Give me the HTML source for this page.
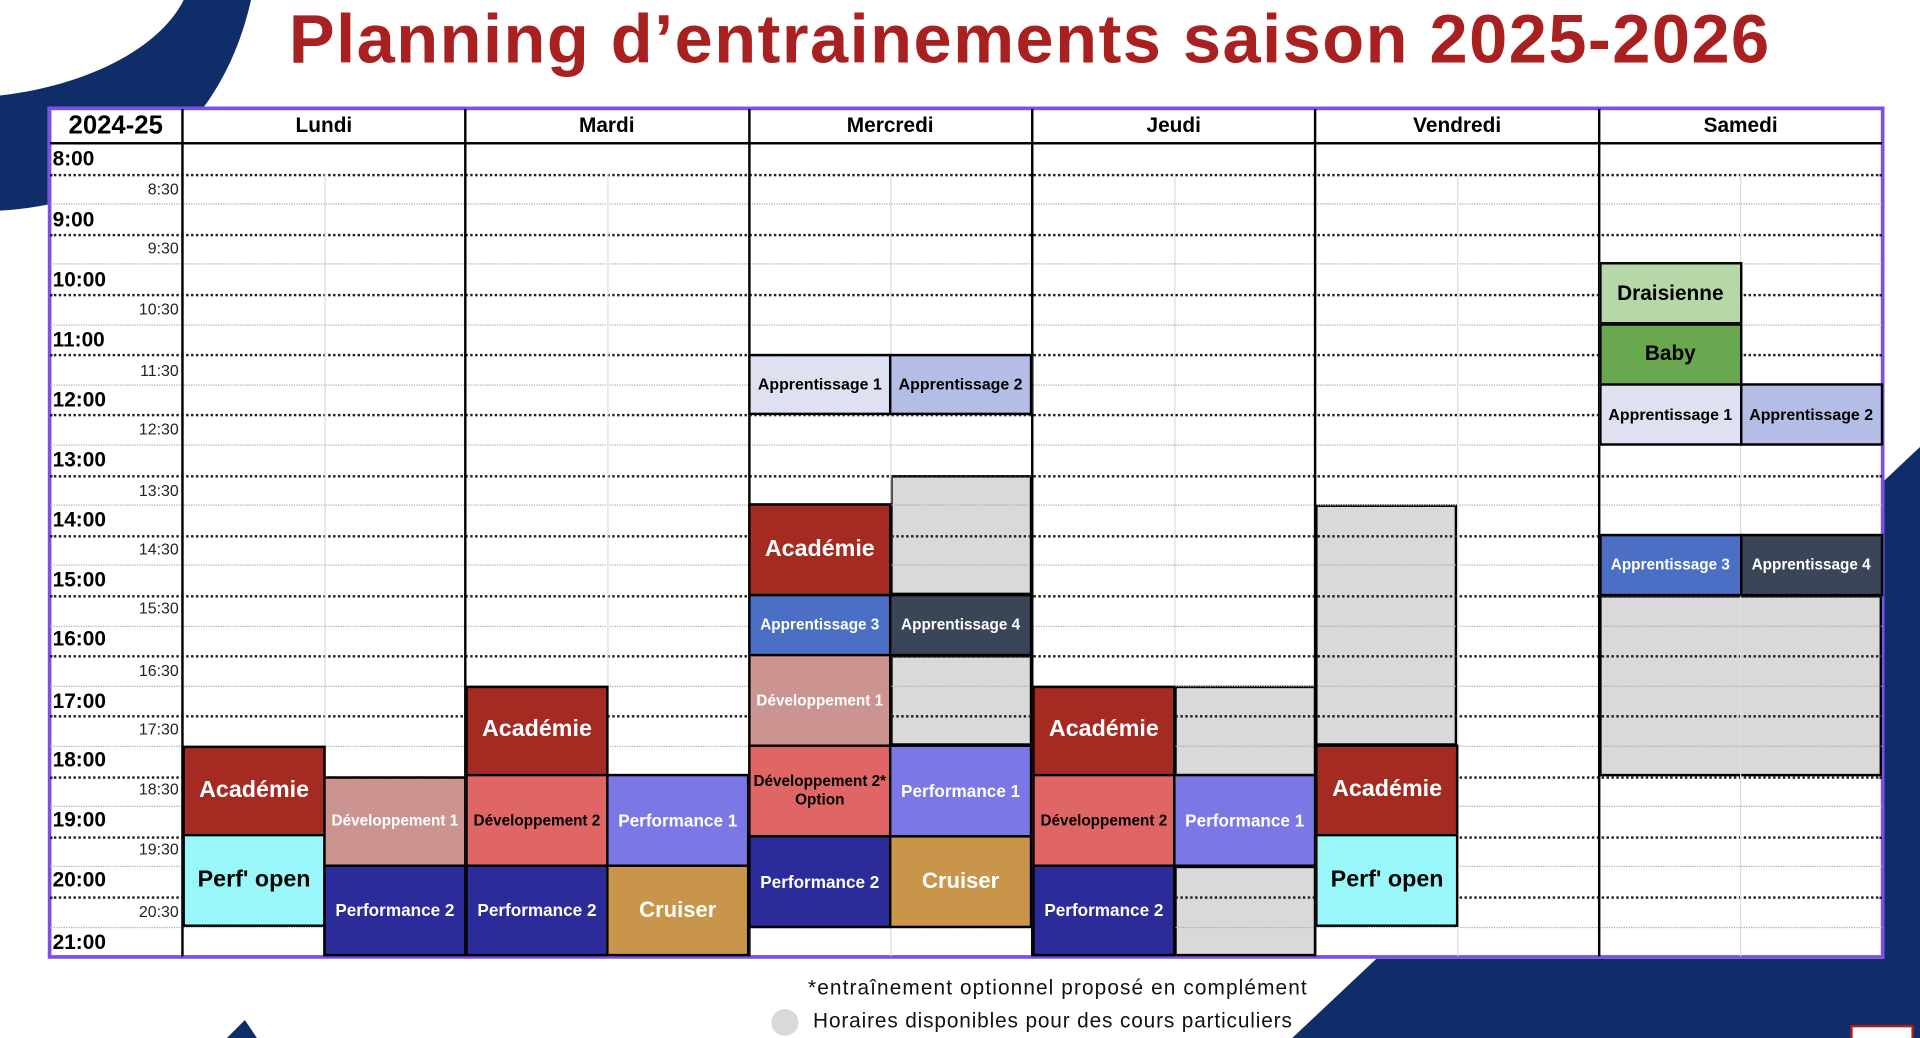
<!DOCTYPE html>
<html><head><meta charset="utf-8"><style>
html,body{margin:0;padding:0;width:1920px;height:1038px;overflow:hidden;background:#fff}
#w{position:absolute;left:0;top:0;width:1568px;height:848px;transform:scale(1.22449);transform-origin:0 0;font-family:"Liberation Sans",sans-serif}
.a{position:absolute}
.h{position:absolute;left:41px;width:1496px;height:0;border-top:2px dotted #222}
.g{position:absolute;left:41px;width:1496px;height:0;border-top:1.5px dotted #aaa}
.v{position:absolute;top:89px;height:692px;width:0;border-left:2px solid #000}
.s{position:absolute;top:142px;height:639px;width:0;border-left:1px solid #ddd}
.b{position:absolute;box-sizing:border-box;border:2px solid #000;display:flex;align-items:center;justify-content:center;text-align:center;font-weight:bold;color:#fff;line-height:1.2}
.gr{position:absolute;box-sizing:border-box;border:2px solid #000;background:#d9d9d9}
.hd{position:absolute;top:89px;height:28px;display:flex;align-items:center;justify-content:center;font-weight:bold;font-size:17px}
.tl{position:absolute;left:43px;font-weight:bold;font-size:17px}
.tr{position:absolute;left:60px;width:86px;text-align:right;font-size:13px;color:#222}
</style></head><body><div id="w">
<svg class="a" style="left:0;top:0" width="1568" height="848">
<path d="M0,78 C70,70 130,40 150,0 L205,0 C185,90 120,165 0,172 Z" fill="#0f2d69"/>
<path d="M1568,365 L1568,848 L1055,848 Z" fill="#0f2d69"/>
<path d="M185,848 L200,833 L210,848 Z" fill="#0f2d69"/>
<rect x="1512" y="838" width="50" height="14" fill="#fff" stroke="#a8201f" stroke-width="2"/>
</svg>
<div class="a" style="left:0;top:0;width:1682px;text-align:center;font-weight:bold;font-size:56px;color:#a8201f;line-height:64px;letter-spacing:1.2px">Planning d’entrainements saison 2025-2026</div>
<div class="a" style="left:39px;top:87px;width:1500px;height:696px;box-sizing:border-box;border:3px solid #7b4fe8;background:#fff"></div>

<div class="gr" style="left:727px;top:387.6px;width:116px;height:98.4px"></div>
<div class="gr" style="left:727px;top:535.2px;width:116px;height:73.8px"></div>
<div class="gr" style="left:958.6px;top:559.8px;width:116px;height:73.8px"></div>
<div class="gr" style="left:958.6px;top:707.4px;width:116px;height:73.6px"></div>
<div class="gr" style="left:1074.3px;top:412.2px;width:116px;height:196.8px"></div>
<div class="gr" style="left:1305.6px;top:486px;width:231.4px;height:147.6px"></div>

<div class="h" style="top:141.6px"></div><div class="g" style="top:166.2px"></div>
<div class="h" style="top:190.8px"></div><div class="g" style="top:215.4px"></div>
<div class="h" style="top:240px"></div><div class="g" style="top:264.6px"></div>
<div class="h" style="top:289.2px"></div><div class="g" style="top:313.8px"></div>
<div class="h" style="top:338.4px"></div><div class="g" style="top:363px"></div>
<div class="h" style="top:387.6px"></div><div class="g" style="top:412.2px"></div>
<div class="h" style="top:436.8px"></div><div class="g" style="top:461.4px"></div>
<div class="h" style="top:486px"></div><div class="g" style="top:510.6px"></div>
<div class="h" style="top:535.2px"></div><div class="g" style="top:559.8px"></div>
<div class="h" style="top:584.4px"></div><div class="g" style="top:609px"></div>
<div class="h" style="top:633.6px"></div><div class="g" style="top:658.2px"></div>
<div class="h" style="top:682.8px"></div><div class="g" style="top:707.4px"></div>
<div class="h" style="top:732px"></div><div class="g" style="top:756.6px"></div>
<div class="s" style="left:265px"></div><div class="s" style="left:496px"></div><div class="s" style="left:727px"></div>
<div class="s" style="left:958.6px"></div><div class="s" style="left:1190px"></div><div class="s" style="left:1421.3px"></div>
<div class="a" style="left:41px;top:116px;width:1496px;border-top:2.5px solid #000"></div>
<div class="v" style="left:148px"></div><div class="v" style="left:379.3px"></div><div class="v" style="left:610.6px"></div>
<div class="v" style="left:842px"></div><div class="v" style="left:1073.3px"></div><div class="v" style="left:1304.6px"></div>

<div class="hd" style="left:41px;width:107px;font-size:21px">2024-25</div>
<div class="hd" style="left:149px;width:231px">Lundi</div>
<div class="hd" style="left:380px;width:231px">Mardi</div>
<div class="hd" style="left:611px;width:232px">Mercredi</div>
<div class="hd" style="left:843px;width:231px">Jeudi</div>
<div class="hd" style="left:1074px;width:232px">Vendredi</div>
<div class="hd" style="left:1306px;width:231px">Samedi</div>

<div class="tl" style="top:120px">8:00</div><div class="tr" style="top:147px">8:30</div>
<div class="tl" style="top:170px">9:00</div><div class="tr" style="top:195px">9:30</div>
<div class="tl" style="top:219px">10:00</div><div class="tr" style="top:245px">10:30</div>
<div class="tl" style="top:268px">11:00</div><div class="tr" style="top:295px">11:30</div>
<div class="tl" style="top:317px">12:00</div><div class="tr" style="top:343px">12:30</div>
<div class="tl" style="top:366px">13:00</div><div class="tr" style="top:393px">13:30</div>
<div class="tl" style="top:415px">14:00</div><div class="tr" style="top:441px">14:30</div>
<div class="tl" style="top:464px">15:00</div><div class="tr" style="top:489px">15:30</div>
<div class="tl" style="top:512px">16:00</div><div class="tr" style="top:540px">16:30</div>
<div class="tl" style="top:563px">17:00</div><div class="tr" style="top:588px">17:30</div>
<div class="tl" style="top:611px">18:00</div><div class="tr" style="top:637px">18:30</div>
<div class="tl" style="top:660px">19:00</div><div class="tr" style="top:686px">19:30</div>
<div class="tl" style="top:709px">20:00</div><div class="tr" style="top:737px">20:30</div>
<div class="tl" style="top:760px">21:00</div>

<div class="b" style="left:149px;top:609px;width:117px;height:74px;background:#a52b22;font-size:19px">Académie</div>
<div class="b" style="left:149px;top:681px;width:117px;height:76px;background:#99f7f9;color:#000;font-size:19px">Perf' open</div>
<div class="b" style="left:264px;top:633.6px;width:117px;height:74px;background:#cc9490;font-size:12.5px">Développement 1</div>
<div class="b" style="left:264px;top:706px;width:117px;height:75px;background:#2b2b9a;font-size:14px">Performance 2</div>
<div class="b" style="left:380px;top:559.8px;width:117px;height:74px;background:#a52b22;font-size:19px">Académie</div>
<div class="b" style="left:380px;top:632px;width:117px;height:76px;background:#e06666;color:#000;font-size:12.5px">Développement 2</div>
<div class="b" style="left:380px;top:706px;width:117px;height:75px;background:#2b2b9a;font-size:14px">Performance 2</div>
<div class="b" style="left:495px;top:632px;width:117px;height:76px;background:#7b78e6;font-size:14px">Performance 1</div>
<div class="b" style="left:495px;top:706px;width:117px;height:75px;background:#c9954a;font-size:18px">Cruiser</div>
<div class="b" style="left:611px;top:289.2px;width:117px;height:50px;background:#dde1f2;color:#000;font-size:13px">Apprentissage 1</div>
<div class="b" style="left:726px;top:289.2px;width:117px;height:50px;background:#b4bde6;color:#000;font-size:13px">Apprentissage 2</div>
<div class="b" style="left:611px;top:411px;width:117px;height:76px;background:#a52b22;font-size:19px">Académie</div>
<div class="b" style="left:611px;top:485px;width:117px;height:51px;background:#4a6fc4;font-size:12.5px">Apprentissage 3</div>
<div class="b" style="left:726px;top:485px;width:117px;height:51px;background:#3a4558;font-size:12.5px">Apprentissage 4</div>
<div class="b" style="left:611px;top:534px;width:117px;height:76px;background:#cc9490;font-size:12.5px">Développement 1</div>
<div class="b" style="left:611px;top:608px;width:117px;height:76px;background:#e06666;color:#000;font-size:12.5px">Développement 2*<br>Option</div>
<div class="b" style="left:726px;top:608px;width:117px;height:76px;background:#7b78e6;font-size:14px">Performance 1</div>
<div class="b" style="left:611px;top:682px;width:117px;height:76px;background:#2b2b9a;font-size:14px">Performance 2</div>
<div class="b" style="left:726px;top:682px;width:117px;height:76px;background:#c9954a;font-size:18px">Cruiser</div>
<div class="b" style="left:843px;top:559.8px;width:117px;height:74px;background:#a52b22;font-size:19px">Académie</div>
<div class="b" style="left:843px;top:632px;width:117px;height:76px;background:#e06666;color:#000;font-size:12.5px">Développement 2</div>
<div class="b" style="left:843px;top:706px;width:117px;height:75px;background:#2b2b9a;font-size:14px">Performance 2</div>
<div class="b" style="left:958px;top:632px;width:117px;height:76px;background:#7b78e6;font-size:14px">Performance 1</div>
<div class="b" style="left:1074.3px;top:608px;width:117px;height:75px;background:#a52b22;font-size:19px">Académie</div>
<div class="b" style="left:1074.3px;top:681px;width:117px;height:76px;background:#99f7f9;color:#000;font-size:19px">Perf' open</div>
<div class="b" style="left:1305.6px;top:214.4px;width:117px;height:51px;background:#b6d7a8;color:#000;font-size:17px">Draisienne</div>
<div class="b" style="left:1305.6px;top:263.6px;width:117px;height:51px;background:#6aa84f;color:#000;font-size:17px">Baby</div>
<div class="b" style="left:1305.6px;top:313px;width:117px;height:51px;background:#dde1f2;color:#000;font-size:13px">Apprentissage 1</div>
<div class="b" style="left:1420.6px;top:313px;width:117px;height:51px;background:#b4bde6;color:#000;font-size:13px">Apprentissage 2</div>
<div class="b" style="left:1305.6px;top:436px;width:117px;height:51px;background:#4a6fc4;font-size:12.5px">Apprentissage 3</div>
<div class="b" style="left:1420.6px;top:436px;width:117px;height:51px;background:#3a4558;font-size:12.5px">Apprentissage 4</div>

<div class="a" style="left:560px;top:797px;width:508px;text-align:right;font-size:17px;letter-spacing:0.9px;color:#111">*entraînement optionnel proposé en complément</div>
<div class="a" style="left:630px;top:824px;width:22px;height:22px;border-radius:50%;background:#d9d9d9"></div>
<div class="a" style="left:664px;top:824px;font-size:17px;letter-spacing:0.7px;color:#111">Horaires disponibles pour des cours particuliers</div>
</div></body></html>
